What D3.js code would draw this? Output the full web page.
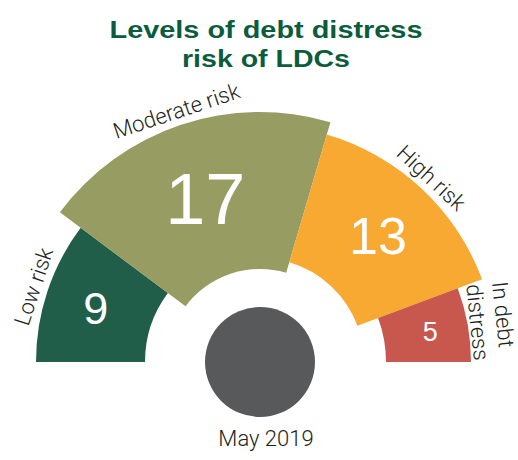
<!DOCTYPE html>
<html>
<head>
<meta charset="utf-8">
<script src="https://cdn.jsdelivr.net/npm/d3@7"></script>
<style>
  html, body { margin: 0; padding: 0; background: #ffffff; }
  svg { display: block; }
</style>
</head>
<body>
<script>
// ---- data ----
const titleLines = ["Levels of debt distress", "risk of LDCs"];
const categories = ["Low risk", "Moderate risk", "High risk", "In debt distress"];
const categoryLines = [["Low risk"], ["Moderate risk"], ["High risk"], ["In debt", "distress"]];
const values = [9, 17, 13, 5];
const dateLabel = "May 2019";

// ---- styles ----
const palette = ["#215e4a", "#969c62", "#f8a931", "#c8584d"];
const W = 518, H = 460, cx = 260, cy = 362;

const svg = d3.select("body").append("svg").attr("width", W).attr("height", H);

const data = categories.map((c, i) => ({ cat: c, value: values[i], lines: categoryLines[i] }));

const color = d3.scaleOrdinal().domain(categories).range(palette);
const innerR = d3.scaleLinear().domain([5, 17]).range([126, 93]);
const outerR = d3.scaleLinear().domain([5, 17]).range([211, 250]);
const numSize = d3.scaleLinear().domain([5, 9, 13, 17]).range([27, 45, 52, 72]);

const pie = d3.pie().sort(null).value(d => d.value)
  .startAngle(-Math.PI / 2).endAngle(Math.PI / 2);
const arcs = pie(data);

const arc = d3.arc()
  .innerRadius(d => innerR(d.data.value))
  .outerRadius(d => outerR(d.data.value));

const g = svg.append("g").attr("transform", `translate(${cx},${cy})`);

g.selectAll("path.sector").data(arcs).join("path")
  .attr("class", "sector")
  .attr("d", arc)
  .attr("fill", d => color(d.data.cat));

const polar = (r, a) => [r * Math.sin(a), -r * Math.cos(a)];
const mid = d => (d.startAngle + d.endAngle) / 2;
const deg = a => a * 180 / Math.PI;

// value numbers
g.selectAll("text.val").data(arcs).join("text")
  .attr("class", "val")
  .attr("transform", d => `translate(${polar(173, mid(d))})`)
  .attr("text-anchor", "middle")
  .attr("dy", "0.36em")
  .attr("fill", "#ffffff")
  .style("font-family", "'Liberation Sans', Arial, sans-serif")
  .style("font-size", d => numSize(d.data.value) + "px")
  .text(d => d.data.value);

// category labels (single-line, tangential)
const labelFont = "Roboto, 'Liberation Sans', Arial, sans-serif";
g.selectAll("text.cat").data(arcs.filter(d => d.data.lines.length === 1)).join("text")
  .attr("class", "cat")
  .attr("transform", d => `translate(${polar(outerR(d.data.value) + 7, mid(d))}) rotate(${deg(mid(d))})`)
  .attr("text-anchor", "middle")
  .attr("fill", "#231f20")
  .style("font-family", labelFont)
  .style("font-weight", 300)
  .style("font-size", "22px")
  .text(d => d.data.lines[0]);

// multi-line label (In debt distress)
arcs.filter(d => d.data.lines.length > 1).forEach(d => {
  const t = g.append("text")
    .attr("transform", `translate(${polar(outerR(d.data.value) + 9, d.startAngle)}) rotate(84)`)
    .attr("text-anchor", "start")
    .attr("fill", "#231f20")
    .style("font-family", labelFont)
    .style("font-weight", 300)
    .style("font-size", "22px");
  const n = d.data.lines.length;
  d.data.lines.forEach((line, i) => {
    t.append("tspan").attr("x", 0).attr("y", (i - (n - 1)) * 26).text(line);
  });
});

// center circle
g.append("circle").attr("r", 55).attr("fill", "#58595b");

// date label
svg.append("text")
  .attr("x", 266).attr("y", 446)
  .attr("text-anchor", "middle")
  .attr("fill", "#231f20")
  .style("font-family", labelFont)
  .style("font-weight", 300)
  .style("font-size", "22px")
  .text(dateLabel);

// title
const titleWidths = [313, 168];
svg.selectAll("text.title").data(titleLines).join("text")
  .attr("class", "title")
  .attr("x", 266)
  .attr("y", (d, i) => 38 + i * 28.7)
  .attr("text-anchor", "middle")
  .attr("fill", "#0b5c3d")
  .attr("textLength", (d, i) => titleWidths[i])
  .attr("lengthAdjust", "spacingAndGlyphs")
  .style("font-family", "'Liberation Sans', Arial, sans-serif")
  .style("font-weight", 700)
  .style("font-size", "23px")
  .text(d => d);
</script>
</body>
</html>
